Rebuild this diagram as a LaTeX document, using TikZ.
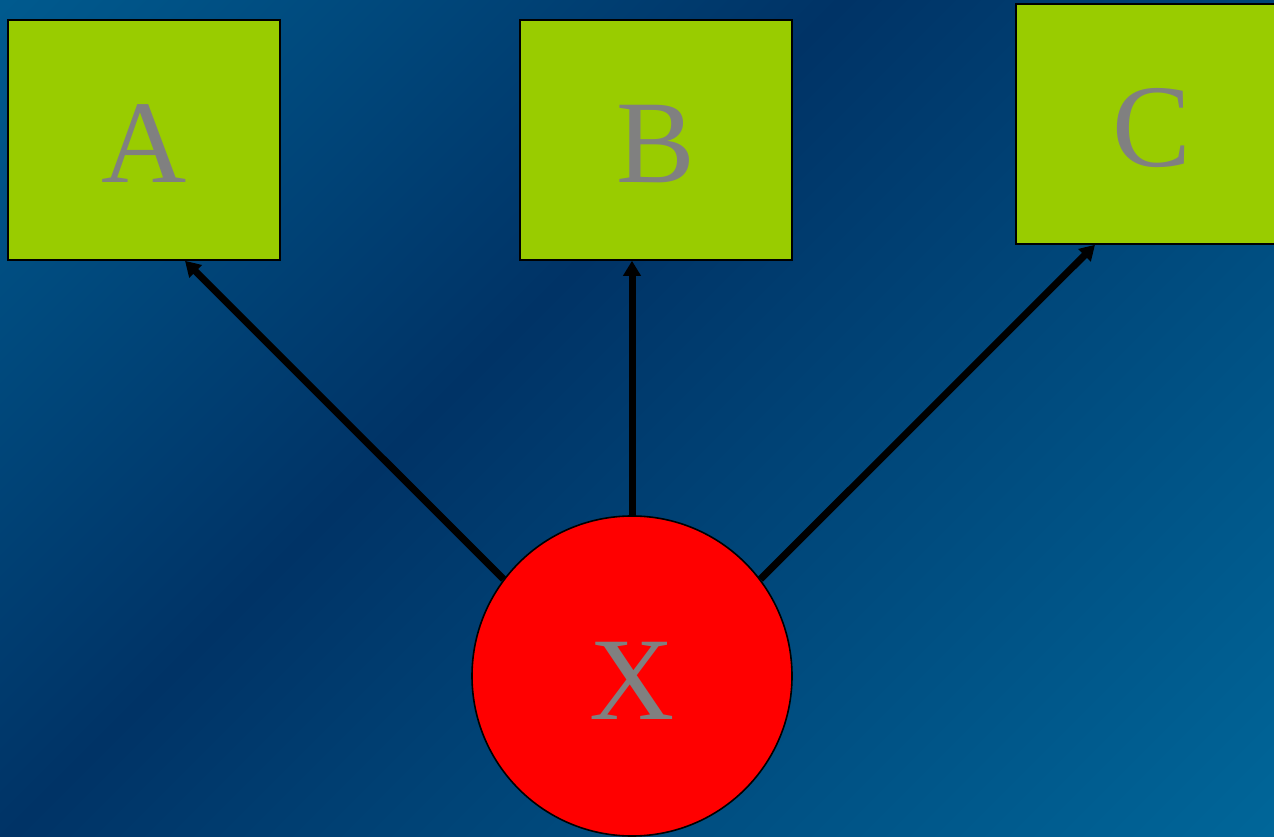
\documentclass[tikz,border=0pt]{standalone}
\usepackage{fontspec}
\setmainfont{Liberation Serif}
\usetikzlibrary{arrows.meta}

\definecolor{bgA}{RGB}{0,90,142}
\definecolor{bgB}{RGB}{0,51,102}
\definecolor{bgC}{RGB}{0,102,153}
\definecolor{boxgreen}{RGB}{153,204,0}
\definecolor{lettergray}{RGB}{128,128,128}

% Diagonal blue background: light corner, dark band, light corner.
% The useful part of a rotated shading is its middle 50bp square,
% whose diagonal spans 14.64bp to 85.36bp.
\pgfdeclarehorizontalshading{bgblue}{100bp}{%
  color(0bp)=(bgA);
  color(14.64bp)=(bgA);
  color(42.9bp)=(bgB);
  color(85.36bp)=(bgC);
  color(100bp)=(bgC)}

\begin{document}
\begin{tikzpicture}[x=1pt,y=1pt,
  letter/.style={text=lettergray, font=\fontsize{118}{118}\selectfont,
    inner sep=0pt, text height=86pt, text depth=0pt},
  termbox/.style={letter, rectangle, draw=black, line width=1.6pt,
    fill=boxgreen, minimum width=272pt, minimum height=240pt},
  source/.style={letter, circle, draw=black, line width=1.6pt,
    fill=red, minimum size=320pt},
  link/.style={line width=7pt, draw=black,
    -{Triangle[length=15pt,width=17pt]}}]

  \useasboundingbox (0,0) rectangle (1274,836);
  \begin{scope}
    \clip (0,0) rectangle (1274,836);
    \fill[shading=bgblue, shading angle=-45] (0,0) rectangle (1274,836);

    \node[termbox] (A) at (144,696) {A};
    \node[termbox] (B) at (656,696) {B};
    \node[termbox] (C) at (1152,712) {C};
    \node[source]  (X) at (632,160) {X};

    \draw[link] (X.143) -- ([xshift=41pt]A.south);
    \draw[link] (X.north) -- ([xshift=-24pt]B.south);
    \draw[link] (X.37) -- ([xshift=-57pt]C.south);
  \end{scope}
\end{tikzpicture}
\end{document}
